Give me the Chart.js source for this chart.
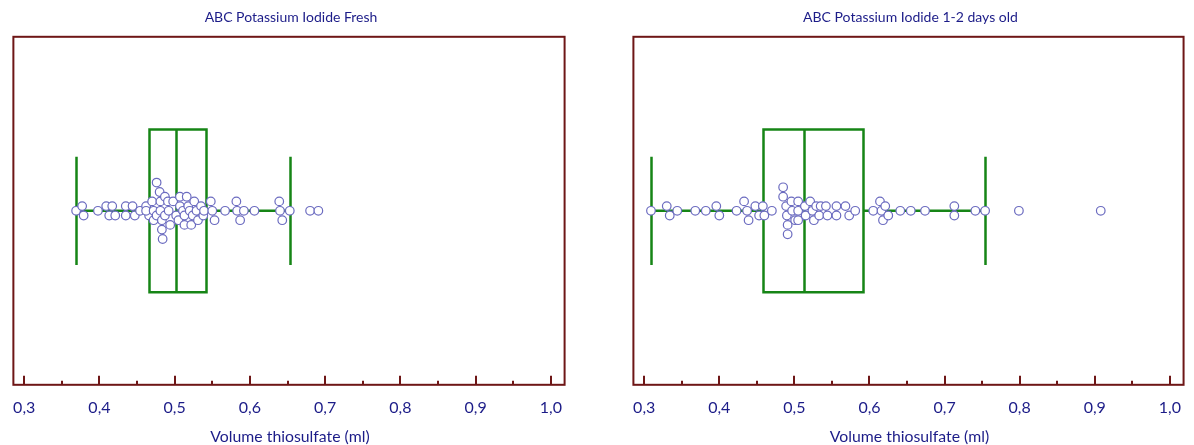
<!DOCTYPE html>
<html>
<head>
<meta charset="utf-8">
<script src="https://cdn.jsdelivr.net/npm/chart.js@4.4.1/dist/chart.umd.min.js"></script>
<style>
  html, body { margin: 0; padding: 0; background: #fff; }
  .panel { position: absolute; top: 0; height: 445px; }
  #p1 { left: 0; width: 575px; }
  #p2 { left: 620px; width: 574px; }
</style>
</head>
<body>
<div class="panel" id="p1"><canvas id="chartFresh" width="575" height="445"></canvas></div>
<div class="panel" id="p2"><canvas id="chartOld" width="574" height="445"></canvas></div>
<script>
// axis ticks (ml)
const xTicks = [0.3, 0.4, 0.5, 0.6, 0.7, 0.8, 0.9, 1.0];
const xMinorTicks = [0.35, 0.45, 0.55, 0.65, 0.75, 0.85, 0.95];
const xAxisTitle = 'Volume thiosulfate (ml)';

// box plots: [whisker low, Q1, median, Q3, whisker high]
const freshBox = [0.369, 0.466, 0.5015, 0.542, 0.653];
const oldBox = [0.309, 0.458, 0.513, 0.592, 0.754];

// fresh solution: measured volumes and beeswarm offset
const freshValues = [
  0.369, 0.377, 0.379, 0.398, 0.409, 0.413, 0.417, 0.421, 0.435, 0.435,
  0.444, 0.447, 0.454, 0.462, 0.466, 0.462, 0.470, 0.472, 0.472, 0.476,
  0.476, 0.480, 0.481, 0.481, 0.483, 0.483, 0.484, 0.487, 0.487, 0.491,
  0.492, 0.494, 0.498, 0.502, 0.505, 0.507, 0.507, 0.511, 0.513, 0.513,
  0.516, 0.518, 0.520, 0.522, 0.524, 0.526, 0.529, 0.531, 0.535, 0.538,
  0.539, 0.548, 0.550, 0.553, 0.567, 0.582, 0.583, 0.587, 0.592, 0.606,
  0.639, 0.640, 0.643, 0.653, 0.680, 0.691
];
const freshOffsets = [
  0, 1, -1, 0, 1, -1, 1, -1, 1, -1,
  1, -1, 0, 1, -1, 0, 2, 0, -2, 6,
  -1, 4, 2, 0, -2, -4, -6, 3, -1, 2,
  0, -3, 2, -1, -2, 3, 1, 0, -1, -3,
  3, 1, 0, -3, -1, 2, 0, -2, 1, -1,
  0, 2, 0, -2, 0, 2, 0, -2, 0, 0,
  2, 0, -2, 0, 0, 0
];

// 1-2 days old solution
const oldValues = [
  0.309, 0.330, 0.334, 0.344, 0.368, 0.382, 0.396, 0.400, 0.423, 0.433,
  0.437, 0.439, 0.448, 0.453, 0.458, 0.460, 0.470, 0.485, 0.485, 0.489,
  0.490, 0.491, 0.491, 0.496, 0.497, 0.505, 0.505, 0.501, 0.505, 0.514,
  0.515, 0.521, 0.524, 0.526, 0.529, 0.533, 0.535, 0.542, 0.544, 0.556,
  0.556, 0.568, 0.573, 0.581, 0.605, 0.614, 0.616, 0.618, 0.621, 0.625,
  0.641, 0.655, 0.674, 0.713, 0.713, 0.741, 0.754, 0.799, 0.908
];
const oldOffsets = [
  0, 1, -1, 0, 0, 0, 1, -1, 0, 2,
  0, -2, 1, -1, 1, -1, 0, 5, 3, 1,
  -1, -3, -5, 2, 0, 2, 0, -2, -2, 1,
  -1, 2, 0, -2, 1, -1, 1, 1, -1, 1,
  -1, 1, -1, 0, 0, 2, 0, -2, 1, -1,
  0, 0, 0, 1, -1, 0, 0, 0, 0
];

const navy = '#1c1c88';
const maroon = '#6e1616';
const green = '#168516';
const pointColor = '#6c6cc0';

const boxFramePlugin = {
  id: 'boxFrame',
  beforeDatasetsDraw(chart, args, opts) {
    const { ctx, chartArea: a } = chart;
    const x = chart.scales.x, y = chart.scales.y;
    const b = opts.box;
    const yc = y.getPixelForValue(0);
    const capTop = y.getPixelForValue(11.5), capBot = y.getPixelForValue(-11.5);
    const boxTop = y.getPixelForValue(17.3), boxBot = y.getPixelForValue(-17.3);
    const px = b.map(v => Math.round(x.getPixelForValue(v)) + 0.5);

    ctx.save();
    ctx.strokeStyle = green;
    ctx.lineWidth = 2.5;
    ctx.beginPath();
    // whisker line
    ctx.moveTo(px[0], yc); ctx.lineTo(px[1], yc);
    ctx.moveTo(px[3], yc); ctx.lineTo(px[4], yc);
    // caps
    ctx.moveTo(px[0], capTop); ctx.lineTo(px[0], capBot);
    ctx.moveTo(px[4], capTop); ctx.lineTo(px[4], capBot);
    // box + median
    ctx.rect(px[1], boxTop, px[3] - px[1], boxBot - boxTop);
    ctx.moveTo(px[2], boxTop); ctx.lineTo(px[2], boxBot);
    ctx.stroke();

    // frame
    ctx.strokeStyle = maroon;
    ctx.lineWidth = 2;
    ctx.strokeRect(a.left, a.top, a.right - a.left, a.bottom - a.top);
    // inward ticks
    ctx.beginPath();
    xTicks.forEach(v => {
      const p = Math.round(x.getPixelForValue(v));
      ctx.moveTo(p, a.bottom); ctx.lineTo(p, a.bottom - 9);
    });
    xMinorTicks.forEach(v => {
      const p = Math.round(x.getPixelForValue(v));
      ctx.moveTo(p, a.bottom); ctx.lineTo(p, a.bottom - 4);
    });
    ctx.stroke();

    // axis title
    ctx.fillStyle = navy;
    ctx.font = '15.8px Lato';
    ctx.textAlign = 'center';
    ctx.textBaseline = 'middle';
    ctx.fillText(xAxisTitle, (a.left + a.right) / 2 + 1, 437);
    ctx.restore();
  }
};

function makeChart(id, title, values, offsets, box) {
  const pts = values.map((v, i) => ({ x: v, y: offsets[i] }));
  return new Chart(document.getElementById(id), {
    type: 'scatter',
    data: {
      datasets: [{
        data: pts,
        pointRadius: 4.3,
        pointBorderWidth: 1.2,
        pointBorderColor: pointColor,
        pointBackgroundColor: '#ffffff'
      }]
    },
    options: {
      responsive: false,
      animation: false,
      layout: { padding: { left: 11, right: 4, top: 0, bottom: 15 } },
      plugins: {
        legend: { display: false },
        tooltip: { enabled: false },
        title: {
          display: true,
          text: title,
          color: navy,
          font: { family: 'Lato', size: 14, weight: 'normal' },
          padding: { top: 9, bottom: 11 }
        },
        boxFrame: { box: box }
      },
      scales: {
        x: {
          type: 'linear',
          min: 0.2856,
          max: 1.0183,
          afterBuildTicks: s => { s.ticks = xTicks.map(v => ({ value: v })); },
          grid: { display: false, drawTicks: false },
          border: { display: false },
          ticks: {
            color: navy,
            padding: 13,
            maxRotation: 0,
            font: { family: 'Lato', size: 16 },
            callback: v => v.toFixed(1).replace('.', ',')
          }
        },
        y: {
          display: false,
          min: -37,
          max: 37
        }
      }
    },
    plugins: [boxFramePlugin]
  });
}

makeChart('chartFresh', 'ABC Potassium Iodide Fresh', freshValues, freshOffsets, freshBox);
makeChart('chartOld', 'ABC Potassium Iodide 1-2 days old', oldValues, oldOffsets, oldBox);
</script>
</body>
</html>
